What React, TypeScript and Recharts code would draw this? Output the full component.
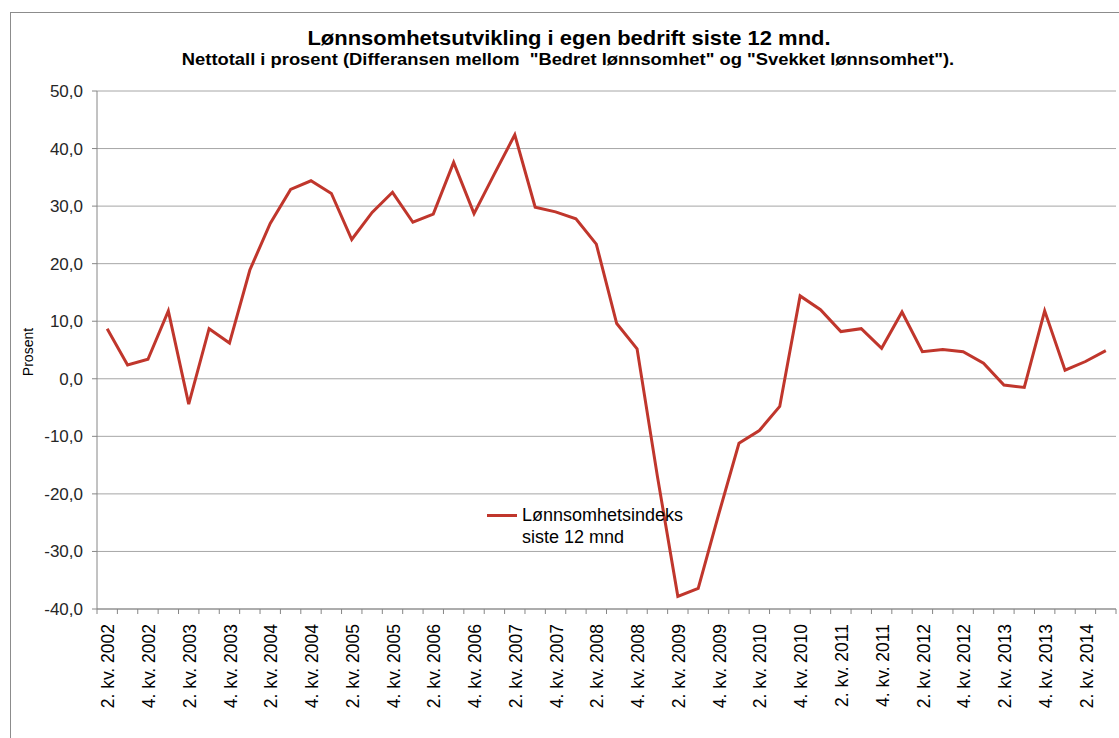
import React from 'react';
import { LineChart, Line, XAxis, YAxis, CartesianGrid } from 'recharts';

const categories: string[] = [
  '2. kv. 2002', '3. kv. 2002', '4. kv. 2002', '1. kv. 2003',
  '2. kv. 2003', '3. kv. 2003', '4. kv. 2003', '1. kv. 2004',
  '2. kv. 2004', '3. kv. 2004', '4. kv. 2004', '1. kv. 2005',
  '2. kv. 2005', '3. kv. 2005', '4. kv. 2005', '1. kv. 2006',
  '2. kv. 2006', '3. kv. 2006', '4. kv. 2006', '1. kv. 2007',
  '2. kv. 2007', '3. kv. 2007', '4. kv. 2007', '1. kv. 2008',
  '2. kv. 2008', '3. kv. 2008', '4. kv. 2008', '1. kv. 2009',
  '2. kv. 2009', '3. kv. 2009', '4. kv. 2009', '1. kv. 2010',
  '2. kv. 2010', '3. kv. 2010', '4. kv. 2010', '1. kv. 2011',
  '2. kv. 2011', '3. kv. 2011', '4. kv. 2011', '1. kv. 2012',
  '2. kv. 2012', '3. kv. 2012', '4. kv. 2012', '1. kv. 2013',
  '2. kv. 2013', '3. kv. 2013', '4. kv. 2013', '1. kv. 2014',
  '2. kv. 2014', '3. kv. 2014',
];

const indexValues: number[] = [
  8.7, 2.4, 3.4, 11.8, -4.4, 8.7, 6.2, 18.9,
  27.0, 32.9, 34.4, 32.2, 24.2, 28.9, 32.4, 27.2,
  28.6, 37.6, 28.7, 35.6, 42.4, 29.8, 29.0, 27.8,
  23.4, 9.6, 5.2, -17.0, -37.8, -36.4, -23.6, -11.2,
  -9.0, -4.8, 14.4, 12.0, 8.2, 8.7, 5.3, 11.6,
  4.7, 5.1, 4.7, 2.7, -1.1, -1.5, 11.8, 1.5,
  3.0, 4.9,
];

const yTicks: number[] = [-40, -30, -20, -10, 0, 10, 20, 30, 40, 50];

const seriesName = 'Lønnsomhetsindeks siste 12 mnd';
const titleText = 'Lønnsomhetsutvikling i egen bedrift siste 12 mnd.';
const subtitleText =
  'Nettotall i prosent (Differansen mellom  "Bedret lønnsomhet" og "Svekket lønnsomhet").';
const yAxisTitle = 'Prosent';
const legendLines: string[] = ['Lønnsomhetsindeks', 'siste 12 mnd'];

const data = categories.map((c, i) => ({ label: c, value: indexValues[i] }));

const FONT = '"Liberation Sans", Arial, sans-serif';
const RED = '#c0362c';
const AXIS = '#868686';

const XTick = (props: any) => {
  const { x, y, payload, index } = props;
  const off = typeof payload?.offset === 'number' && payload.offset > 0 ? payload.offset : 10.19;
  const axisY = y - 8;
  const last = index === categories.length - 1;
  return (
    <g>
      <line x1={x - off} x2={x - off} y1={axisY} y2={axisY + 5} stroke={AXIS} strokeWidth={1} />
      {last && <line x1={x + off} x2={x + off} y1={axisY} y2={axisY + 5} stroke={AXIS} strokeWidth={1} />}
      {index % 2 === 0 && (
        <text
          transform={`translate(${x + 1},${axisY + 15}) rotate(-90)`}
          textAnchor="end"
          dy="0.35em"
          fontSize={17.5}
          fontFamily={FONT}
          fill="#000"
        >
          {payload.value}
        </text>
      )}
    </g>
  );
};

export default function App() {
  return (
    <div
      style={{
        position: 'absolute',
        left: 0,
        top: 0,
        width: 1119,
        height: 738,
        overflow: 'hidden',
        background: '#fff',
        fontFamily: FONT,
      }}
    >
      <div
        style={{
          position: 'absolute',
          left: 10,
          top: 12,
          width: 1300,
          height: 900,
          border: '1px solid #8c8c8c',
        }}
      />
      <div
        style={{
          position: 'absolute',
          left: 0,
          width: 1138,
          top: 26,
          textAlign: 'center',
          fontWeight: 'bold',
          fontSize: 21,
          lineHeight: '24px',
          color: '#000',
          whiteSpace: 'pre',
          transform: 'scaleX(1.045)',
          transformOrigin: '569px 0',
        }}
      >
        {titleText}
      </div>
      <div
        style={{
          position: 'absolute',
          left: 0,
          width: 1136,
          top: 50,
          textAlign: 'center',
          fontWeight: 'bold',
          fontSize: 17,
          lineHeight: '20px',
          color: '#000',
          whiteSpace: 'pre',
          transform: 'scaleX(1.08)',
          transformOrigin: '568px 0',
        }}
      >
        {subtitleText}
      </div>
      <div
        style={{
          position: 'absolute',
          left: 28,
          top: 352,
          transform: 'translate(-50%, -50%) rotate(-90deg)',
          fontSize: 14,
          lineHeight: '16px',
          color: '#000',
          whiteSpace: 'nowrap',
        }}
      >
        {yAxisTitle}
      </div>
      <div style={{ position: 'absolute', left: 0, top: 0 }}>
        <LineChart
          width={1119}
          height={738}
          data={data}
          margin={{ top: 91, right: 3, bottom: 0, left: 0 }}
        >
          <CartesianGrid horizontal vertical={false} stroke="#a6a6a6" strokeWidth={1} />
          <XAxis
            dataKey="label"
            scale="band"
            interval={0}
            height={129}
            tickSize={5}
            tickMargin={3}
            tickLine={false}
            axisLine={{ stroke: AXIS }}
            tick={<XTick />}
          />
          <YAxis
            width={97}
            domain={[-40, 50]}
            ticks={yTicks}
            interval={0}
            tickSize={5}
            tickMargin={9}
            axisLine={{ stroke: AXIS }}
            tickLine={{ stroke: AXIS }}
            tickFormatter={(v: number) => v.toFixed(1).replace('.', ',')}
            tick={{ fill: '#262626', fontSize: 17, fontFamily: FONT }}
          />
          <Line
            type="linear"
            dataKey="value"
            name={seriesName}
            stroke={RED}
            strokeWidth={3}
            dot={false}
            activeDot={false}
            isAnimationActive={false}
          />
        </LineChart>
      </div>
      <div style={{ position: 'absolute', left: 487, top: 504 }}>
        <div
          style={{
            position: 'absolute',
            left: 0,
            top: 10,
            width: 30,
            height: 3,
            background: RED,
          }}
        />
        <div
          style={{
            position: 'absolute',
            left: 35,
            top: 0,
            fontSize: 18,
            lineHeight: '22px',
            color: '#000',
            whiteSpace: 'nowrap',
          }}
        >
          {legendLines.map((l) => (
            <div key={l}>{l}</div>
          ))}
        </div>
      </div>
    </div>
  );
}
